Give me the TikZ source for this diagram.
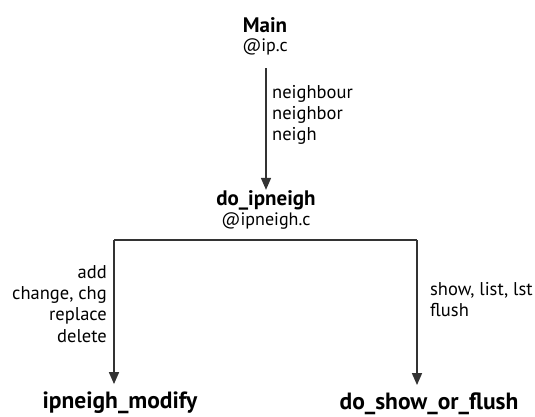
\documentclass[tikz,border=0pt]{standalone}
\usepackage{fontspec}
\setmainfont{PT Sans}
\usetikzlibrary{arrows.meta}
\begin{document}
\begin{tikzpicture}[x=1pt,y=-1pt,
  lab/.style={inner sep=0pt,font=\fontsize{18.5}{21.3}\selectfont},
  ttl/.style={inner sep=0pt,anchor=base,font=\bfseries\fontsize{21}{24}\selectfont},
  btl/.style={ttl,font=\bfseries\fontsize{23.5}{26}\selectfont},
  fil/.style={inner sep=0pt,anchor=base,font=\fontsize{18}{21}\selectfont},
  ln/.style={draw=black!80,line width=1.6pt},
  arr/.style={ln,-{Triangle[length=12pt,width=10pt]}}]
\useasboundingbox (0,0) rectangle (535,416);
\node[ttl] (main) at (265,32) {Main};
\node[fil] (mainf) at (265,51) {@ip.c};
\node[ttl] (doip) at (266,205) {do\_ipneigh};
\node[fil] (doipf) at (266,225) {@ipneigh.c};
\node[btl] (mod) at (120,408) {ipneigh\_modify};
\node[btl] (dsf) at (429,409) {do\_show\_or\_flush};
\coordinate (lc) at (114,240);
\coordinate (rc) at (417,240);
\coordinate (a0) at (266,68);
\draw[arr] (a0) -- (a0 |- doip.north);
\draw[ln] (lc) -- (rc);
\draw[arr,shorten >=7pt] (lc) -- (lc |- mod.north);
\draw[arr,shorten >=7pt] (rc) -- (rc |- dsf.north);
\node[lab,anchor=north west,align=left] (l1) at (272,85) {neighbour\\neighbor\\neigh};
\node[lab,anchor=north east,align=right] (l2) at (107,265) {add\\change, chg\\replace\\delete};
\node[lab,anchor=north west,align=left] (l3) at (430,282) {show, list, lst\\flush};
\end{tikzpicture}
\end{document}
